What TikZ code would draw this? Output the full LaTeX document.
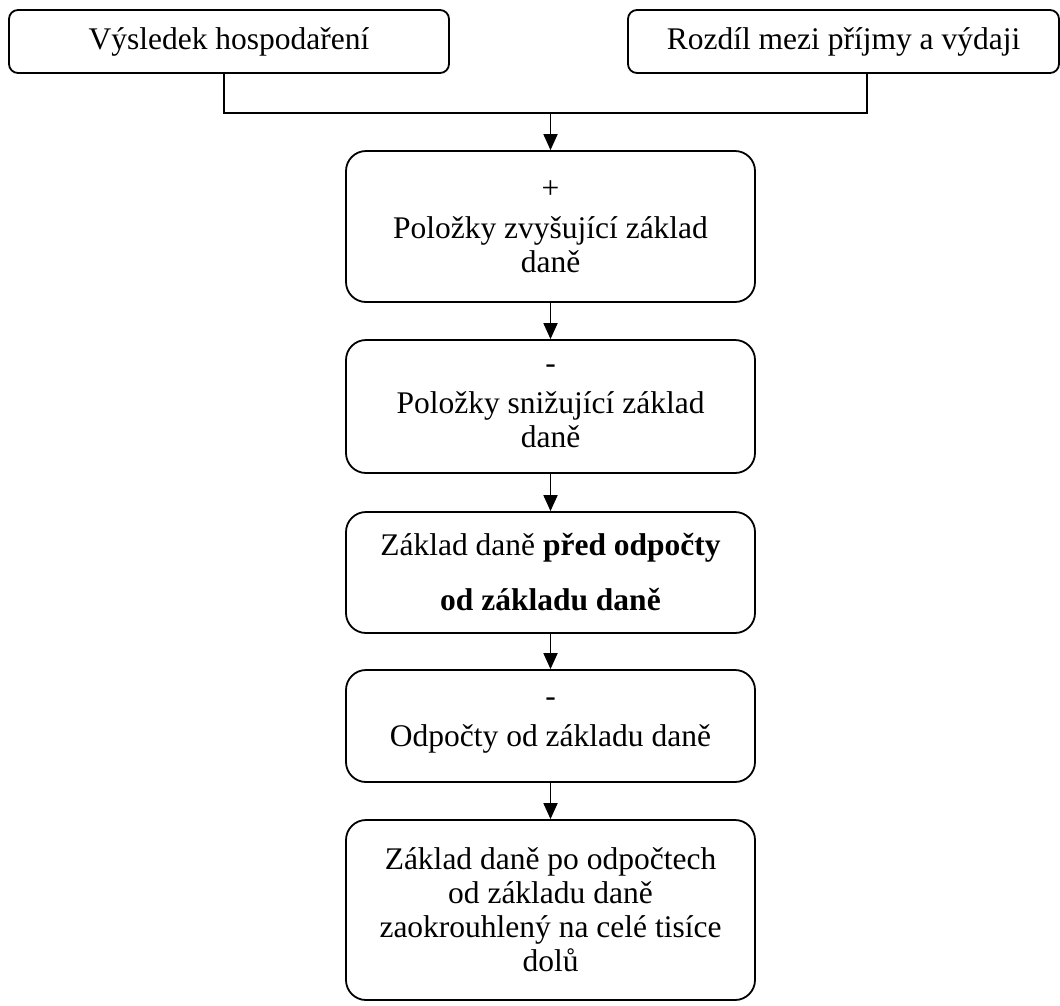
\documentclass[tikz,border=0pt]{standalone}
\usepackage{fontspec}
\setmainfont{Liberation Serif}
\usetikzlibrary{arrows.meta}
\newcommand*{\boxtxt}{\fontsize{31.5}{34}\selectfont}

\begin{document}
\begin{tikzpicture}[x=1pt,y=-1pt,
  krok/.style={draw,line width=1.8pt,rounded corners=20pt,minimum width=409pt,
               align=center,inner sep=0pt,font=\boxtxt},
  horni/.style={krok,rounded corners=9pt,minimum height=63pt},
  spoj/.style={line width=1.8pt},
  sipka/.style={spoj,-{Triangle[width=14pt,length=16pt]}}]
\useasboundingbox (0,0) rectangle (1060,1005);
% Top sources
\node[horni,minimum width=440pt] (vysledek) at (229,41.5) {Výsledek hospodaření};
\node[horni,minimum width=431pt] (rozdil) at (843.5,41.5) {Rozdíl mezi příjmy a výdaji};
% Steps of the calculation
\node[krok,minimum height=151pt] (zvys) at (550.5,226.5)
  {+\\[6pt] Položky zvyšující základ\\ daně};
\node[krok,minimum height=133pt] (sniz) at (550.5,406.5)
  {-\\[6pt] Položky snižující základ\\ daně};
\node[krok,minimum height=121pt] (zaklad) at (550.5,572.5)
  {Základ daně \textbf{před odpočty}\\[21pt] \textbf{od základu daně}};
\node[krok,minimum height=112pt] (odpocty) at (550.5,726)
  {-\\[6pt] Odpočty od základu daně};
\node[krok,minimum height=180pt] (vysl) at (550.5,910)
  {Základ daně po odpočtech\\ od základu daně\\ zaokrouhlený na celé tisíce\\ dolů};
% Joining the two sources
\coordinate (spojeni) at (zvys.north |- 0,113);
\draw[spoj] ([xshift=-5pt]vysledek.south) |- (spojeni) -| ([xshift=23.5pt]rozdil.south);
% Arrows
\draw[sipka] (spojeni) -- (zvys.north);
\draw[sipka] (zvys) -- (sniz);
\draw[sipka] (sniz) -- (zaklad);
\draw[sipka] (zaklad) -- (odpocty);
\draw[sipka] (odpocty) -- (vysl);
\end{tikzpicture}
\end{document}
